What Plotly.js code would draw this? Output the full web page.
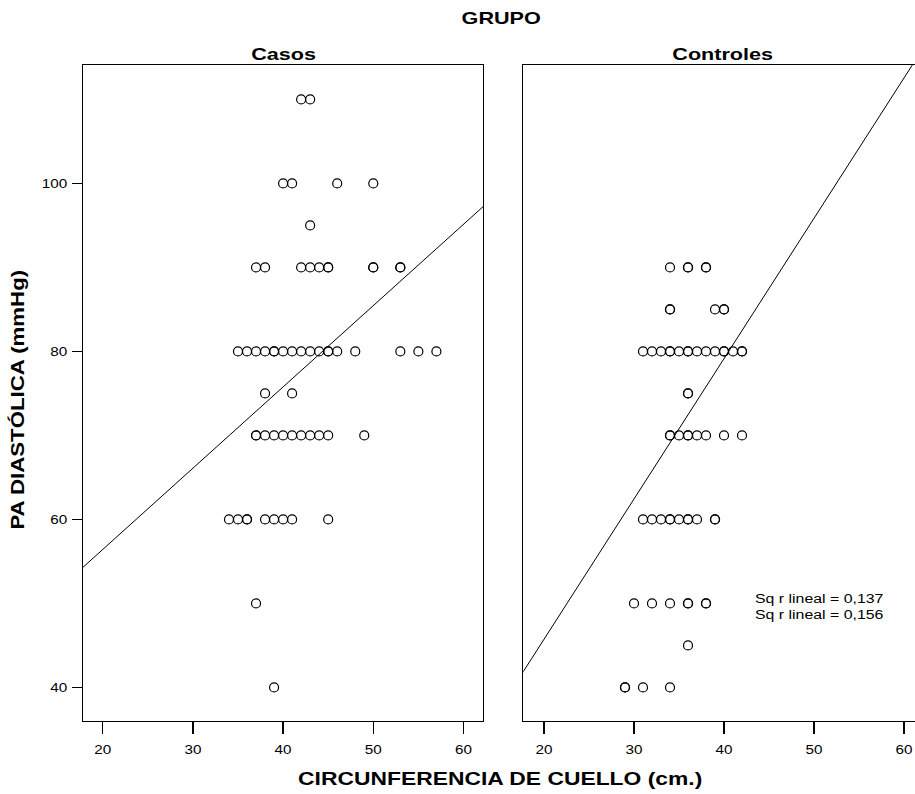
<!DOCTYPE html>
<html>
<head>
<meta charset="utf-8">
<script src="https://cdn.plot.ly/plotly-3.0.1.min.js"></script>
<style>
  html, body { margin: 0; padding: 0; background: #fff; }
  #chart { width: 915px; height: 794px; }
</style>
</head>
<body>
<div id="chart"></div>
<script>
// ---- Data ----
const casosX = [
  42, 43,
  40, 41, 46, 50,
  43,
  37, 38, 42, 43, 44, 45, 45, 50, 50, 53, 53,
  35, 36, 37, 38, 39, 39, 40, 41, 42, 43, 44, 45, 45, 46, 48, 53, 55, 57,
  38, 41,
  37, 37, 38, 39, 40, 41, 42, 43, 44, 45, 49,
  34, 35, 36, 36, 38, 39, 40, 41, 45,
  37,
  39
];
const casosY = [
  110, 110,
  100, 100, 100, 100,
  95,
  90, 90, 90, 90, 90, 90, 90, 90, 90, 90, 90,
  80, 80, 80, 80, 80, 80, 80, 80, 80, 80, 80, 80, 80, 80, 80, 80, 80, 80,
  75, 75,
  70, 70, 70, 70, 70, 70, 70, 70, 70, 70, 70,
  60, 60, 60, 60, 60, 60, 60, 60, 60,
  50,
  40
];
const controlesX = [
  34, 36, 36, 38, 38,
  34, 34, 39, 40, 40,
  31, 32, 33, 34, 34, 35, 36, 36, 37, 38, 39, 40, 40, 41, 42, 42,
  36, 36,
  34, 34, 35, 36, 36, 37, 38, 40, 42,
  31, 32, 33, 34, 34, 35, 36, 36, 37, 39, 39,
  30, 32, 34, 36, 36, 38, 38,
  36,
  29, 29, 31, 34
];
const controlesY = [
  90, 90, 90, 90, 90,
  85, 85, 85, 85, 85,
  80, 80, 80, 80, 80, 80, 80, 80, 80, 80, 80, 80, 80, 80, 80, 80,
  75, 75,
  70, 70, 70, 70, 70, 70, 70, 70, 70,
  60, 60, 60, 60, 60, 60, 60, 60, 60, 60, 60,
  50, 50, 50, 50, 50, 50, 50,
  45,
  40, 40, 40, 40
];
// fitted lines (end points)
const fitCasosX = [17.5, 62.5];
const fitCasosY = [54.0, 97.55];
const fitControlesX = [17.5, 62.0];
const fitControlesY = [41.55, 115.9];

const xTicks = [20, 30, 40, 50, 60];
const yTicks = [40, 60, 80, 100];
const fitLabels = ['Sq r lineal = 0,137', 'Sq r lineal = 0,156'];

// ---- Plot ----
const FONT = 'Liberation Sans, Arial, sans-serif';
const W = 915, H = 794;
const px = v => v / W;
const py = v => 1 - v / H;

const marker = { symbol: 'circle-open', size: 9, color: '#000', line: { color: '#000', width: 1.2 } };

const traces = [
  { x: casosX, y: casosY, type: 'scatter', mode: 'markers', marker: marker, xaxis: 'x', yaxis: 'y' },
  { x: fitCasosX, y: fitCasosY, type: 'scatter', mode: 'lines', line: { color: '#000', width: 1 }, xaxis: 'x', yaxis: 'y' },
  { x: controlesX, y: controlesY, type: 'scatter', mode: 'markers', marker: marker, xaxis: 'x2', yaxis: 'y2' },
  { x: fitControlesX, y: fitControlesY, type: 'scatter', mode: 'lines', line: { color: '#000', width: 1 }, xaxis: 'x2', yaxis: 'y2' }
];

const yRange = [36.0, 114.1];
const xAxisCommon = {
  tickvals: xTicks, ticktext: xTicks.map(String),
  ticks: 'outside', ticklen: 12, tickwidth: 1.5, tickcolor: '#000',
  ticklabelstandoff: 6,
  showline: true, linecolor: '#000', linewidth: 1, mirror: true,
  showgrid: false, zeroline: false,
  tickfont: { family: FONT, size: 12, color: '#000' },
  fixedrange: true
};

const titleFont = { family: FONT, size: 17, color: '#000', weight: 'bold' };

const layout = {
  width: W, height: H,
  margin: { l: 0, r: 0, t: 0, b: 0, pad: 0 },
  paper_bgcolor: '#fff', plot_bgcolor: '#fff',
  showlegend: false,
  xaxis: Object.assign({}, xAxisCommon, { domain: [px(82.7), px(483.3)], range: [17.78, 62.2], anchor: 'y' }),
  xaxis2: Object.assign({}, xAxisCommon, { domain: [px(523.3), 1], range: [17.7, 61.22], anchor: 'y2' }),
  yaxis: {
    domain: [py(721), py(65)], range: yRange, anchor: 'x',
    tickvals: yTicks, ticktext: yTicks.map(String),
    ticks: 'outside', ticklen: 10, tickwidth: 1.5, tickcolor: '#000',
    ticklabelstandoff: 2,
    showline: true, linecolor: '#000', linewidth: 1, mirror: true,
    showgrid: false, zeroline: false,
    tickfont: { family: FONT, size: 12, color: '#000' },
    fixedrange: true
  },
  yaxis2: {
    domain: [py(721), py(65)], range: yRange, anchor: 'x2',
    showticklabels: false, ticks: '',
    showline: true, linecolor: '#000', linewidth: 1, mirror: false,
    showgrid: false, zeroline: false, fixedrange: true
  },
  annotations: [
    { text: 'GRUPO', x: px(501), y: py(19), xref: 'paper', yref: 'paper', xanchor: 'center', yanchor: 'middle', showarrow: false, font: titleFont },
    { text: 'Casos', x: px(283), y: py(54), xref: 'paper', yref: 'paper', xanchor: 'center', yanchor: 'middle', showarrow: false, font: titleFont },
    { text: 'Controles', x: px(722), y: py(54), xref: 'paper', yref: 'paper', xanchor: 'center', yanchor: 'middle', showarrow: false, font: titleFont },
    { text: 'CIRCUNFERENCIA DE CUELLO (cm.)', x: px(500), y: py(779), xref: 'paper', yref: 'paper', xanchor: 'center', yanchor: 'middle', showarrow: false, font: { family: FONT, size: 18, color: '#000', weight: 'bold' } },
    { text: 'PA DIASTÓLICA (mmHg)', x: px(17), y: py(400), xref: 'paper', yref: 'paper', xanchor: 'center', yanchor: 'middle', textangle: -90, showarrow: false, font: { family: FONT, size: 17.5, color: '#000', weight: 'bold' } },
    { text: fitLabels[0], x: px(753), y: py(599), xref: 'paper', yref: 'paper', xanchor: 'left', yanchor: 'middle', align: 'left', showarrow: false, font: { family: FONT, size: 12.5, color: '#000' } },
    { text: fitLabels[1], x: px(753), y: py(615), xref: 'paper', yref: 'paper', xanchor: 'left', yanchor: 'middle', align: 'left', showarrow: false, font: { family: FONT, size: 12.5, color: '#000' } }
  ]
};

// The reference's lettering is drawn wider than Arial: stretch every text horizontally.
const STRETCH = 1.27;
Plotly.newPlot('chart', traces, layout, { staticPlot: true, displayModeBar: false }).then(gd => {
  gd.querySelectorAll('svg text').forEach(t => {
    if (!t.textContent.trim()) return;
    const w = t.getComputedTextLength();
    if (!(w > 0)) return;
    t.setAttribute('textLength', (w * STRETCH).toFixed(2));
    t.setAttribute('lengthAdjust', 'spacingAndGlyphs');
  });
});
</script>
</body>
</html>
